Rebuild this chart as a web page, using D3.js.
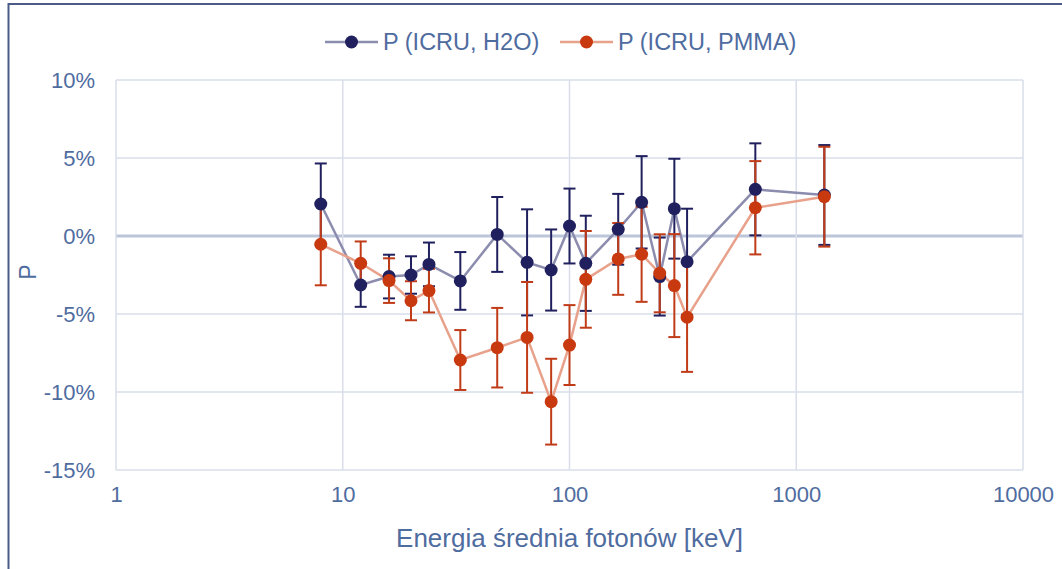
<!DOCTYPE html>
<html>
<head>
<meta charset="utf-8">
<script src="https://cdn.jsdelivr.net/npm/d3@7"></script>
<style>
  body { margin: 0; background: #fff; }
  svg { display: block; font-family: "Liberation Sans", Arial, sans-serif; }
</style>
</head>
<body>
<div class="vis-chart"></div>
<script>
// photon mean energy [keV]
const energy = [8, 12, 16, 20, 24, 33, 48, 65, 83, 100, 118, 164, 208, 250, 290, 330, 660, 1330];
// P (ICRU, H2O) in %
const pH2O = [2.05, -3.14, -2.6, -2.5, -1.82, -2.88, 0.1, -1.69, -2.18, 0.64, -1.75, 0.43, 2.16, -2.6, 1.75, -1.65, 2.99, 2.63];
const errH2O = [2.6, 1.4, 1.4, 1.2, 1.4, 1.85, 2.4, 3.4, 2.6, 2.4, 3.05, 2.27, 2.96, 2.5, 3.2, 3.4, 2.95, 3.2];
// P (ICRU, PMMA) in %
const pPMMA = [-0.53, -1.75, -2.86, -4.15, -3.5, -7.95, -7.16, -6.5, -10.62, -6.99, -2.78, -1.47, -1.17, -2.39, -3.18, -5.21, 1.81, 2.52];
const errPMMA = [2.63, 1.4, 1.43, 1.25, 1.4, 1.92, 2.55, 3.55, 2.75, 2.56, 3.1, 2.3, 3.05, 2.5, 3.3, 3.5, 2.99, 3.2];

const xTicks = [1, 10, 100, 1000, 10000];
const yTicks = [-15, -10, -5, 0, 5, 10];

const width = 1062, height = 569;
const textColor = '#4f6c9f';
const gridColor = '#d9deea';

const series = [
  { name: 'P (ICRU, H2O)', values: pH2O, errs: errH2O, line: '#8c8cae', mark: '#20205e', bar: '#20205e' },
  { name: 'P (ICRU, PMMA)', values: pPMMA, errs: errPMMA, line: '#e8a18b', mark: '#c8390f', bar: '#c03c18' }
];

const svg = d3.select('.vis-chart').append('svg')
  .attr('width', width).attr('height', height);

// outer frame (only left and top visible)
svg.append('rect')
  .attr('x', 8.5).attr('y', 4).attr('width', width + 20).attr('height', height + 20)
  .attr('fill', 'none').attr('stroke', '#4a5b88').attr('stroke-width', 2);

const x = d3.scaleLog().domain([1, 10000]).range([116, 1023]);
const y = d3.scaleLinear().domain([-15, 10]).range([470, 80]);

const g = svg.append('g');

// gridlines
g.selectAll('.hgrid').data(yTicks).enter().append('line')
  .attr('x1', x(1)).attr('x2', x(10000))
  .attr('y1', d => y(d)).attr('y2', d => y(d))
  .attr('stroke', d => d === 0 ? '#bcc6da' : gridColor)
  .attr('stroke-width', d => d === 0 ? 3 : 1.5);
g.selectAll('.vgrid').data(xTicks).enter().append('line')
  .attr('x1', d => x(d)).attr('x2', d => x(d))
  .attr('y1', y(10)).attr('y2', y(-15))
  .attr('stroke', gridColor).attr('stroke-width', 1.5);

// axes (labels only)
const yAxis = d3.axisLeft(y).tickValues(yTicks).tickSize(0).tickPadding(21)
  .tickFormat(d => d + '%');
const yAxisG = g.append('g').attr('transform', `translate(${x(1)},0)`).call(yAxis);
yAxisG.select('.domain').remove();
yAxisG.selectAll('text').attr('fill', textColor).style('font-size', '22px')
  .style('font-family', '"Liberation Sans", Arial, sans-serif');

const xAxis = d3.axisBottom(x).tickValues(xTicks).tickSize(0).tickPadding(16)
  .tickFormat(d3.format('d'));
const xAxisG = g.append('g').attr('transform', `translate(0,${y(-15)})`).call(xAxis);
xAxisG.select('.domain').remove();
xAxisG.selectAll('text').attr('fill', textColor).style('font-size', '22px')
  .style('font-family', '"Liberation Sans", Arial, sans-serif');

// axis titles
svg.append('text')
  .attr('x', (x(1) + x(10000)) / 2).attr('y', 547)
  .attr('text-anchor', 'middle').attr('fill', textColor)
  .style('font-size', '26px')
  .text('Energia średnia fotonów [keV]');
svg.append('text')
  .attr('transform', `translate(36,${(y(10) + y(-15)) / 2 - 3}) rotate(-90)`)
  .attr('text-anchor', 'middle').attr('fill', textColor)
  .style('font-size', '23px')
  .text('P');

// lines
const lineGen = d3.line().x(d => x(d[0])).y(d => y(d[1]));
series.forEach(s => {
  const pts = energy.map((e, i) => [e, s.values[i]]);
  g.append('path').datum(pts)
    .attr('d', lineGen).attr('fill', 'none')
    .attr('stroke', s.line).attr('stroke-width', 2.5);
});

// error bars and markers
series.forEach(s => {
  const eg = g.append('g');
  energy.forEach((e, i) => {
    const cx = x(e), top = y(s.values[i] + s.errs[i]), bot = y(s.values[i] - s.errs[i]);
    eg.append('line').attr('x1', cx).attr('x2', cx).attr('y1', top).attr('y2', bot)
      .attr('stroke', s.bar).attr('stroke-width', 2);
    [top, bot].forEach(yy => {
      eg.append('line').attr('x1', cx - 6).attr('x2', cx + 6).attr('y1', yy).attr('y2', yy)
        .attr('stroke', s.bar).attr('stroke-width', 2);
    });
  });
});
series.forEach(s => {
  g.append('g').selectAll('circle').data(energy).enter().append('circle')
    .attr('cx', d => x(d)).attr('cy', (d, i) => y(s.values[i]))
    .attr('r', 6.5).attr('fill', s.mark);
});

// legend
const legendPos = [325, 560];
series.forEach((s, i) => {
  const lg = svg.append('g').attr('transform', `translate(${legendPos[i]},42)`);
  lg.append('line').attr('x1', 0).attr('x2', 53).attr('y1', 0).attr('y2', 0)
    .attr('stroke', s.line).attr('stroke-width', 2.5);
  lg.append('circle').attr('cx', 26.5).attr('cy', 0).attr('r', 6.5).attr('fill', s.mark);
  lg.append('text').attr('x', 58).attr('y', 8)
    .attr('fill', textColor).style('font-size', '23.5px')
    .text(s.name);
});
</script>
</body>
</html>
